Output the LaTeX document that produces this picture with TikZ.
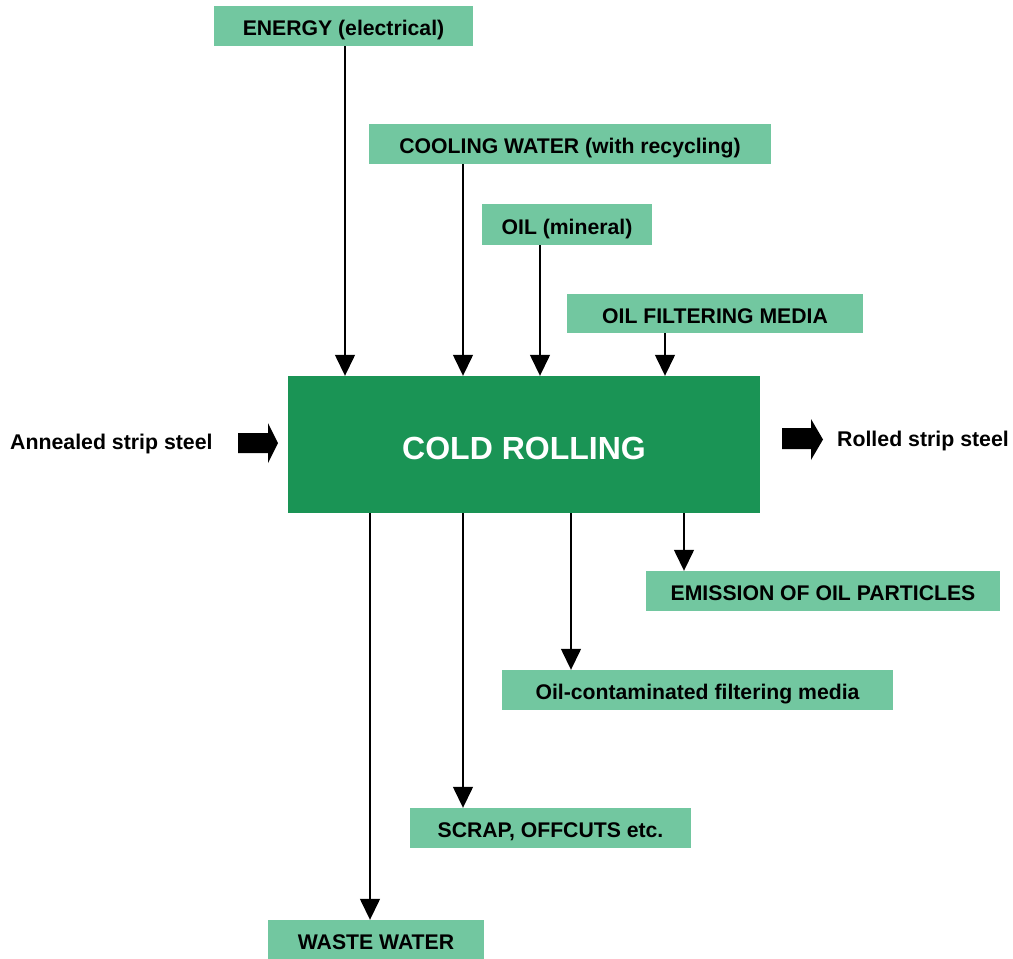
\documentclass[tikz,border=0pt]{standalone}
\usepackage{fontspec}
\setmainfont{Liberation Sans}
\usetikzlibrary{arrows.meta}
\definecolor{lightgreen}{RGB}{114,199,160}
\definecolor{darkgreen}{RGB}{26,148,85}
\begin{document}
\begin{tikzpicture}[x=1pt,y=-1pt,
  flowbox/.style={fill=lightgreen, draw=none, inner sep=0pt,
    text height=19pt, text depth=0pt,
    font=\fontsize{21.2}{24}\selectfont\bfseries},
  processbox/.style={fill=darkgreen, draw=none, inner sep=0pt, text=white,
    text height=30pt, text depth=0pt,
    font=\fontsize{32}{36}\selectfont\bfseries},
  plain/.style={inner sep=0pt, font=\fontsize{21.3}{24}\selectfont\bfseries},
  flow/.style={line width=1.4pt, -{Triangle[width=20pt,length=21pt]}},
  blockarrow/.style={fill=black, draw=none}]
\useasboundingbox (0,0) rectangle (1013,959);

% inputs
\node[flowbox, minimum width=259pt, minimum height=40pt] (energy) at (343.5,26) {ENERGY (electrical)};
\node[flowbox, minimum width=402pt, minimum height=40pt] (cooling) at (570,144) {COOLING WATER (with recycling)};
\node[flowbox, minimum width=170pt, minimum height=41pt] (oil) at (567,224.5) {OIL (mineral)};
\node[flowbox, minimum width=296pt, minimum height=39pt] (filter) at (715,313.5) {OIL FILTERING MEDIA};

% process
\node[processbox, minimum width=472pt, minimum height=137pt] (cold) at (524,444.5) {COLD ROLLING};

% outputs
\node[flowbox, minimum width=354pt, minimum height=40pt] (emission) at (823,591) {EMISSION OF OIL PARTICLES};
\node[flowbox, minimum width=391pt, minimum height=40pt] (contam) at (697.5,690) {Oil-contaminated filtering media};
\node[flowbox, minimum width=281pt, minimum height=40pt] (scrap) at (550.5,828) {SCRAP, OFFCUTS etc.};
\node[flowbox, minimum width=216pt, minimum height=39pt] (waste) at (376,939.5) {WASTE WATER};

% product in and out
\node[plain, anchor=base west] (annealed) at (10,449.3) {Annealed strip steel};
\node[plain, anchor=base east] (rolled) at (1009,446.7) {Rolled strip steel};
\fill[blockarrow] (238,433) -- (268,433) -- (268,423) -- (278,443) -- (268,463) -- (268,453) -- (238,453) -- cycle;
\fill[blockarrow] (782,428) -- (811,428) -- (811,419) -- (823,439.5) -- (811,460) -- (811,449) -- (782,449) -- cycle;

% input flows
\draw[flow] (energy.south -| 345,0) -- (cold.north -| 345,0);
\draw[flow] (cooling.south -| 463,0) -- (cold.north -| 463,0);
\draw[flow] (oil.south -| 540,0) -- (cold.north -| 540,0);
\draw[flow] (filter.south -| 665,0) -- (cold.north -| 665,0);

% output flows
\draw[flow] (cold.south -| 370,0) -- (waste.north -| 370,0);
\draw[flow] (cold.south -| 463,0) -- (scrap.north -| 463,0);
\draw[flow] (cold.south -| 571,0) -- (contam.north -| 571,0);
\draw[flow] (cold.south -| 684,0) -- (emission.north -| 684,0);
\end{tikzpicture}
\end{document}
